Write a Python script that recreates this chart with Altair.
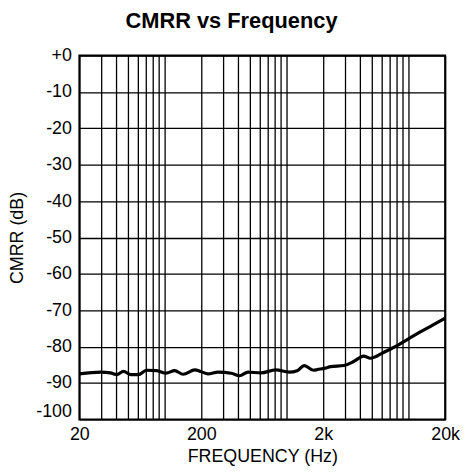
import altair as alt
import pandas as pd

freq = [20, 30, 36, 40.5, 46, 53, 61, 71, 86, 103, 121, 142, 177, 200, 227, 274,
        352, 413, 483, 618, 818, 1050, 1225, 1400, 1670, 1790, 2080, 2300, 2950,
        3550, 4300, 4870, 6250, 8000, 9400, 12300, 15800, 20000]
cmrr = [-87.5, -87.0, -87.2, -87.7, -86.8, -87.7, -87.7, -86.5, -86.6, -87.3, -86.6,
        -87.6, -86.4, -86.9, -87.5, -87.0, -87.3, -88.0, -87.0, -87.2, -86.4, -87.0,
        -86.6, -85.2, -86.5, -86.3, -85.9, -85.5, -85.2, -84.1, -82.6, -83.2, -81.6,
        -79.8, -78.4, -76.1, -74.1, -72.2]

x_grid = [20, 30, 40, 50, 60, 70, 80, 90, 100, 200, 300, 400, 500, 600, 700, 800, 900,
          1000, 2000, 3000, 4000, 5000, 6000, 7000, 8000, 9000, 10000, 20000]
y_ticks = [-100, -90, -80, -70, -60, -50, -40, -30, -20, -10, 0]

df = pd.DataFrame({"f": freq, "db": cmrr})

FONT = "Liberation Sans"

x_label_expr = ("datum.value == 20 ? '20' : datum.value == 200 ? '200' : "
                "datum.value == 2000 ? '2k' : datum.value == 20000 ? '20k' : ''")
y_label_expr = "datum.value == 0 ? '+0' : '' + datum.value"

chart = alt.Chart(df).mark_line(color="black", strokeWidth=3.2, interpolate="monotone").encode(
    x=alt.X("f:Q", scale=alt.Scale(type="log", domain=[20, 20000], nice=False),
            axis=alt.Axis(values=x_grid, labelExpr=x_label_expr, title="FREQUENCY (Hz)",
                          grid=True, gridColor="black", gridWidth=1.3, gridOpacity=1,
                          ticks=False, domain=False, labelOverlap=False, labelPadding=6,
                          labelFontSize=18, labelFont=FONT, labelColor="black",
                          titleFontSize=18, titleFont=FONT, titleFontWeight="normal",
                          titleColor="black", titlePadding=4, labelFlush=False)),
    y=alt.Y("db:Q", scale=alt.Scale(domain=[-100, 0], nice=False),
            axis=alt.Axis(values=y_ticks, labelExpr=y_label_expr, title="CMRR (dB)",
                          grid=True, gridColor="black", gridWidth=1.3, gridOpacity=1,
                          ticks=False, domain=False, labelPadding=8,
                          labelOffset={"condition": {"test": "datum.value == -100", "value": -8},
                                       "value": 0},
                          labelFontSize=18, labelFont=FONT, labelColor="black",
                          titleFontSize=18, titleFont=FONT, titleFontWeight="normal",
                          titleColor="black", titlePadding=9)),
).properties(
    width=369, height=367, padding=0,
    title=alt.TitleParams("CMRR vs Frequency", fontSize=22, font=FONT, fontWeight="bold",
                          color="black", offset=14, dx=-31),
).configure_view(stroke="black", strokeWidth=2)

chart.save("out.html", embed_options={"renderer": "svg", "actions": False})
